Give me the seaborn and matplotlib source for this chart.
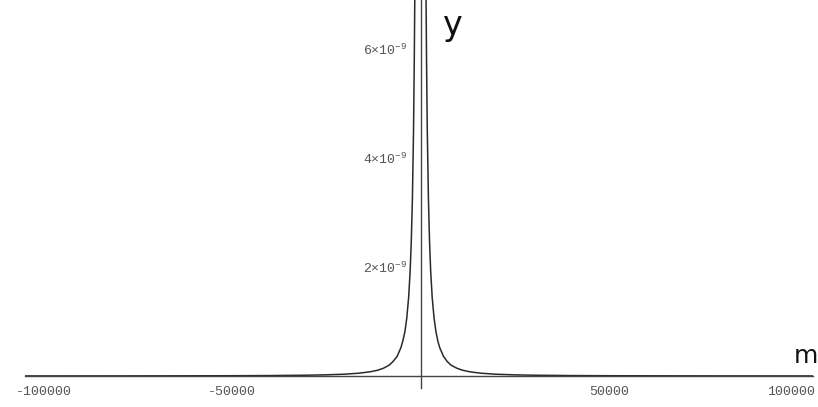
import numpy as np
import pandas as pd
import matplotlib
matplotlib.use("Agg")
import matplotlib.pyplot as plt
import matplotlib.ticker as mticker
import matplotlib.transforms as mtransforms
import seaborn as sns

# ---- data (y in units of 1e-9) ----
m_right = [1200, 1350, 1500, 1700, 2000, 2300, 2600, 3000, 3500, 4000, 4500, 5000,
           6000, 7000, 8000, 9500, 11000, 13000, 16000, 20000, 25000, 30000,
           40000, 50000, 65000, 80000, 105000]
y_right = [9.0, 7.1, 5.8, 4.5, 3.25, 2.46, 1.92, 1.44, 1.06, 0.81, 0.64, 0.52,
           0.36, 0.265, 0.20, 0.144, 0.107, 0.077, 0.051, 0.0325, 0.021, 0.0144,
           0.0081, 0.0052, 0.0031, 0.002, 0.0012]
m_left = [-1450, -1600, -1750, -1950, -2250, -2550, -2850, -3250, -3750, -4250, -4800,
          -5300, -6300, -7400, -8400, -9900, -11400, -13500, -16500, -20500, -25500,
          -30500, -40500, -50500, -65500, -80500, -106000]
y_left = [9.0, 7.1, 5.8, 4.5, 3.25, 2.46, 1.92, 1.44, 1.06, 0.81, 0.64,
          0.52, 0.36, 0.265, 0.20, 0.144, 0.107, 0.077, 0.051, 0.0325, 0.021,
          0.0144, 0.0081, 0.0052, 0.0031, 0.002, 0.0012]

x_major = [-100000, -50000, 50000, 100000]
x_labels = ["-100000", "-50000", "50000", "100000"]
y_major = [2e-9, 4e-9, 6e-9]
y_labels = [r"$2{\times}10^{-9}$", r"$4{\times}10^{-9}$", r"$6{\times}10^{-9}$"]

df = pd.DataFrame({
    "m": m_left + m_right,
    "y": [v * 1e-9 for v in y_left] + [v * 1e-9 for v in y_right],
    "branch": ["left"] * len(m_left) + ["right"] * len(m_right),
})

sns.set_style("white")
plt.rcParams["font.family"] = ["Liberation Mono", "DejaVu Sans"]
plt.rcParams["mathtext.fontset"] = "custom"
plt.rcParams["mathtext.rm"] = "Liberation Mono"
plt.rcParams["mathtext.it"] = "Liberation Mono"
plt.rcParams["mathtext.bf"] = "Liberation Mono"

W, H = 818, 407
fig = plt.figure(figsize=(W / 100, H / 100), dpi=100)
ax = fig.add_axes([25 / W, (H - 388) / H, 788 / W, 388 / H])

sns.lineplot(data=df, x="m", y="y", units="branch", estimator=None, sort=False,
             color="#2a2a2a", linewidth=1.1, ax=ax, legend=False)

ax.set_xlim(-105000, 104000)
ax.set_ylim(-0.22e-9, 6.9e-9)

for s in ["top", "right"]:
    ax.spines[s].set_visible(False)
ax.spines["left"].set_position(("data", 0))
ax.spines["bottom"].set_position(("data", 0))
for s in ["left", "bottom"]:
    ax.spines[s].set_color("#444444")
    ax.spines[s].set_linewidth(1.0)

ax.set_xticks(x_major)
ax.set_xticklabels(x_labels)
ax.xaxis.set_minor_locator(mticker.MultipleLocator(10000))
ax.set_yticks(y_major)
ax.set_yticklabels(y_labels)
ax.yaxis.set_minor_locator(mticker.MultipleLocator(0.5e-9))

ax.tick_params(axis="x", which="major", direction="in", length=5, width=0.8,
               color="#444444", labelsize=9.5, labelcolor="#555555", pad=7)
ax.tick_params(axis="x", which="minor", direction="in", length=3, width=0.7,
               color="#444444")
ax.tick_params(axis="y", which="major", direction="in", length=5, width=0.8,
               color="#444444", labelsize=9.5, labelcolor="#555555", pad=10)
ax.tick_params(axis="y", which="minor", direction="in", length=3, width=0.7,
               color="#444444")

# the last x label sits a little left of its tick so it stays inside the page
last = ax.get_xticklabels()[-1]
last.set_transform(last.get_transform() +
                   mtransforms.ScaledTranslation(-7 / 100, 0, fig.dpi_scale_trans))

ax.set_xlabel("")
ax.set_ylabel("")
ax.grid(False)

# handwritten axis names
fig.text(452 / W, 1 - 26 / H, "y", fontsize=24, color="#111111",
         family="DejaVu Sans", ha="center", va="center")
fig.text(806 / W, 1 - 356 / H, "m", fontsize=18, color="#111111",
         family="DejaVu Sans", ha="center", va="center")

fig.savefig("out.png", dpi=100, facecolor="white")
